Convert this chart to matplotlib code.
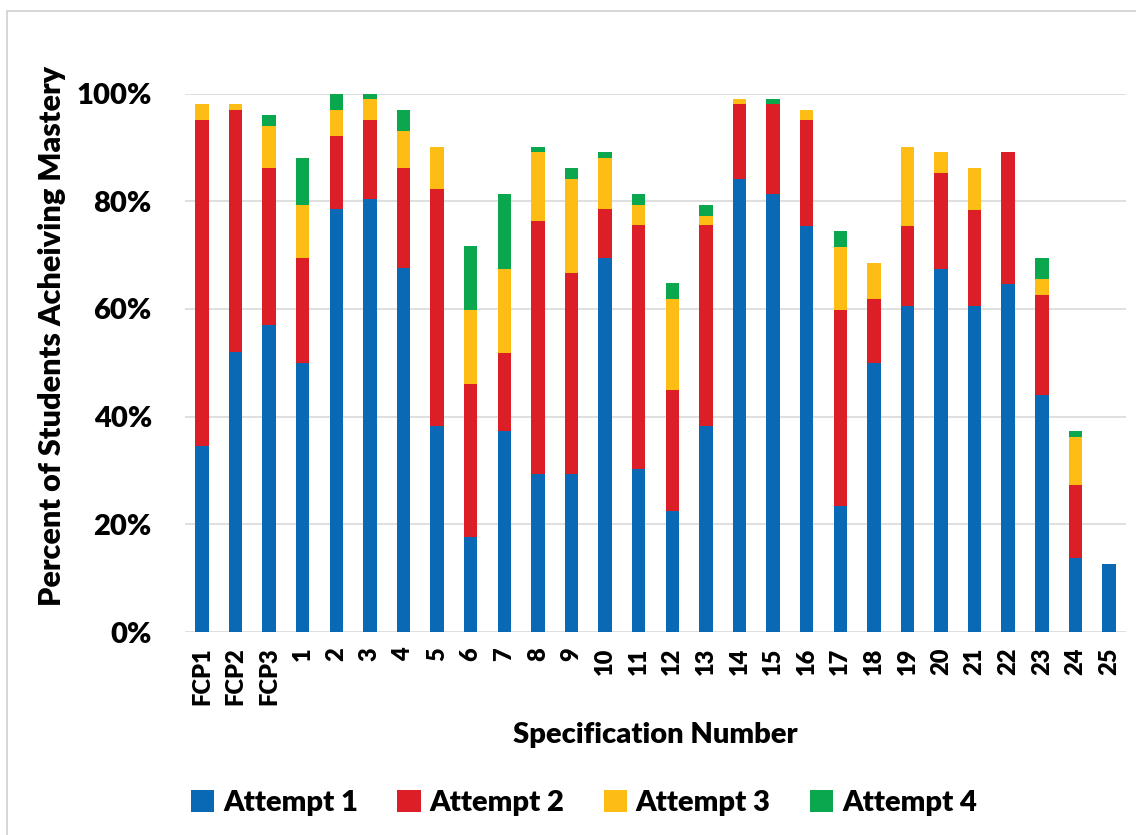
import numpy as np
import matplotlib
matplotlib.use("Agg")
import matplotlib.pyplot as plt
from matplotlib.patches import Rectangle
from matplotlib.ticker import PercentFormatter

plt.rcParams['font.family'] = ['Lato', 'DejaVu Sans']
plt.rcParams['font.weight'] = 'bold'

specs = ['FCP1', 'FCP2', 'FCP3'] + [str(i) for i in range(1, 26)]

# percent of students reaching mastery on each attempt
attempt1 = [34.5, 52.0, 57.0, 50.0, 78.5, 80.4, 67.6, 38.2, 17.6, 37.3,
            29.4, 29.4, 69.5, 30.2, 22.5, 38.2, 84.2, 81.3, 75.4, 23.4,
            49.9, 60.6, 67.5, 60.6, 64.7, 44.1, 13.7, 12.7]
attempt2 = [60.6, 45.0, 29.2, 19.5, 13.7, 14.6, 18.6, 44.1, 28.5, 14.6,
            47.0, 37.3, 9.0, 45.3, 22.5, 37.3, 13.8, 16.7, 19.6, 36.4,
            11.9, 14.8, 17.8, 17.8, 24.5, 18.5, 13.7, 0.0]
attempt3 = [2.9, 1.0, 7.8, 9.8, 4.7, 4.0, 6.9, 7.8, 13.7, 15.6,
            12.8, 17.5, 9.6, 3.8, 16.8, 1.8, 1.0, 0.0, 1.9, 11.7,
            6.8, 14.7, 3.9, 7.8, 0.0, 3.0, 8.8, 0.0]
attempt4 = [0.0, 0.0, 2.1, 8.8, 3.1, 0.9, 3.8, 0.0, 11.8, 13.8,
            0.9, 2.0, 1.1, 2.0, 3.0, 2.0, 0.0, 1.0, 0.0, 3.0,
            0.0, 0.0, 0.0, 0.0, 0.0, 3.9, 1.1, 0.0]

series = [attempt1, attempt2, attempt3, attempt4]
labels = ['Attempt 1', 'Attempt 2', 'Attempt 3', 'Attempt 4']
colors = ['#0a69b5', '#dc1f26', '#fdbd14', '#0aa74f']

fig = plt.figure(figsize=(11.36, 8.35), dpi=100)
ax = fig.add_axes([0.163, 0.243, 0.828, 0.645])

x = np.arange(len(specs))
bottom = np.zeros(len(specs))
for vals, lab, col in zip(series, labels, colors):
    vals = np.array(vals)
    ax.bar(x, vals, width=0.4, bottom=bottom, color=col, label=lab, zorder=2)
    bottom += vals

ax.set_xlim(-0.5, len(specs) - 0.5)
ax.set_ylim(0, 100)
ax.set_yticks(np.arange(0, 101, 20))
ax.yaxis.set_major_formatter(PercentFormatter(decimals=0))
ax.grid(axis='y', color='#d9d9d9', linewidth=1.2, zorder=0)
for s in ax.spines.values():
    s.set_visible(False)
ax.tick_params(axis='y', length=0, pad=24, labelsize=21)
ax.tick_params(axis='x', length=0, pad=11, labelsize=17)
ax.set_xticks(x)
ax.set_xticklabels(specs, rotation=90, fontweight='heavy')
for t in ax.get_yticklabels():
    t.set_fontweight('heavy')

ax.set_ylabel('Percent of Students Acheiving Mastery', fontsize=22,
              fontweight='heavy')
ax.yaxis.set_label_coords(-0.127, 0.55)
ax.set_xlabel('Specification Number', fontsize=21, fontweight='heavy',
              labelpad=12)

fig.legend(loc='center', bbox_to_anchor=(0.514, 0.038), ncol=4,
           frameon=False, handlelength=0.8, handleheight=0.8,
           handletextpad=0.3, columnspacing=1.35,
           prop={'weight': 'heavy', 'size': 21})

# thin frame round the chart area
fig.patches.append(Rectangle((0.006, -0.1), 1.1, 1.087, transform=fig.transFigure,
                             fill=False, edgecolor='#d0d0d0', linewidth=1.2))

fig.savefig('out.png', dpi=100)
